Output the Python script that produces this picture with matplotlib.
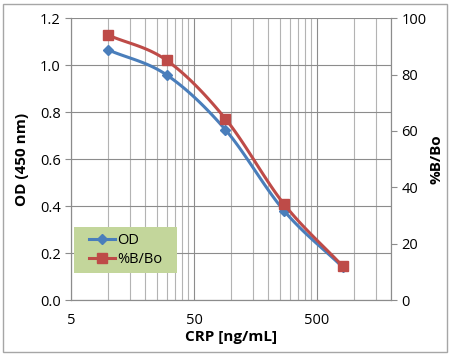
import numpy as np
import matplotlib
matplotlib.use("Agg")
import matplotlib.pyplot as plt
from matplotlib.ticker import FixedLocator, NullFormatter, FixedFormatter
from matplotlib.patches import Rectangle

# data
crp = [10, 30, 90, 270, 810]
od = [1.065, 0.958, 0.725, 0.38, 0.14]
bbo = [94.0, 85.0, 64.3, 34.0, 12.0]

x_ticks = [5, 50, 500]
x_labels = ["5", "50", "500"]

blue = "#4a7ebb"
red = "#be4b48"
grid_col = "#b3b3b3"


def smooth(xs, ys, n=30):
    # Catmull-Rom curve through the points (Excel "smoothed line"), in log-x space
    lx = np.log10(xs)
    ys = np.asarray(ys, float)
    px = np.concatenate([[2 * lx[0] - lx[1]], lx, [2 * lx[-1] - lx[-2]]])
    py = np.concatenate([[2 * ys[0] - ys[1]], ys, [2 * ys[-1] - ys[-2]]])
    outx, outy = [], []
    t = np.linspace(0, 1, n)
    for i in range(1, len(px) - 2):
        for p, out in ((px, outx), (py, outy)):
            p0, p1, p2, p3 = p[i - 1], p[i], p[i + 1], p[i + 2]
            out.extend(0.5 * (2 * p1 + (-p0 + p2) * t
                              + (2 * p0 - 5 * p1 + 4 * p2 - p3) * t ** 2
                              + (-p0 + 3 * p1 - 3 * p2 + p3) * t ** 3))
    return 10 ** np.array(outx), np.array(outy)


plt.rcParams["font.family"] = ["Open Sans", "DejaVu Sans"]

fig = plt.figure(figsize=(4.5, 3.56), dpi=100)
fig.add_artist(Rectangle((0.007, 0.01), 0.986, 0.98, transform=fig.transFigure,
                         fill=False, edgecolor="#a6a6a6", linewidth=1.0))
ax = fig.add_axes([0.158, 0.157, 0.711, 0.792])
ax2 = ax.twinx()

ax.set_xscale("log")
ax.set_xlim(5, 2000)
ax.set_ylim(0, 1.2)
ax2.set_ylim(0, 100)

minor = [5 * k * 10 ** e for e in range(0, 3) for k in range(2, 10)]
minor = [m for m in minor if m < 2000 and m not in (50, 500)] + [2000]
ax.xaxis.set_major_locator(FixedLocator(x_ticks))
ax.xaxis.set_major_formatter(FixedFormatter(x_labels))
ax.xaxis.set_minor_locator(FixedLocator(minor))
ax.xaxis.set_minor_formatter(NullFormatter())
ax.set_yticks(np.arange(0, 1.21, 0.2))
ax.set_yticklabels([f"{v:.1f}" for v in np.arange(0, 1.21, 0.2)])
ax2.set_yticks(np.arange(0, 101, 20))

ax.grid(True, which="major", color="#8c8c8c", linewidth=0.8)
ax.grid(True, which="minor", axis="x", color=grid_col, linewidth=0.8)
ax.set_axisbelow(True)

for a in (ax, ax2):
    for s in a.spines.values():
        s.set_color("#8c8c8c")
    a.spines["top"].set_visible(False)
ax.tick_params(which="both", colors="#8c8c8c", labelcolor="black", labelsize=10.5, length=4)
ax.tick_params(axis="x", which="minor", length=0)
ax.tick_params(axis="x", which="major", length=0, pad=9)
ax2.tick_params(colors="#8c8c8c", labelcolor="black", labelsize=10.5, length=4)

sx, sy = smooth(crp, od)
ax.plot(sx, sy, color=blue, linewidth=2.2, zorder=3)
ax.plot(crp, od, color=blue, marker="D", markersize=5,
        linestyle="none", zorder=4)
sx2, sy2 = smooth(crp, bbo)
ax2.plot(sx2, sy2, color=red, linewidth=2.2, zorder=3)
ax2.plot(crp, bbo, color=red, marker="s", markersize=7,
         linestyle="none", zorder=4)

# legend background box (wider than tall, like Excel's)
ax2.add_patch(Rectangle((0.009, 0.096), 0.322, 0.163, transform=ax2.transAxes,
                        facecolor="#c3d69b", edgecolor="none", zorder=5))
h1 = plt.Line2D([], [], color=blue, linewidth=2.2, marker="D", markersize=5)
h2 = plt.Line2D([], [], color=red, linewidth=2.2, marker="s", markersize=7)
leg = ax2.legend([h1, h2], ["OD", "%B/Bo"], loc="center",
                 bbox_to_anchor=(0.17, 0.177), fontsize=10.5, frameon=False,
                 handlelength=1.8, handletextpad=0.1, borderpad=0,
                 labelspacing=0.3)
leg.set_zorder(6)

ax.set_xlabel("CRP [ng/mL]", fontsize=11, fontweight="bold", labelpad=2)
ax.set_ylabel("OD (450 nm)", fontsize=11, fontweight="bold", labelpad=8)
ax2.set_ylabel("%B/Bo", fontsize=11, fontweight="bold", labelpad=2)

fig.savefig("out.png", dpi=100)
